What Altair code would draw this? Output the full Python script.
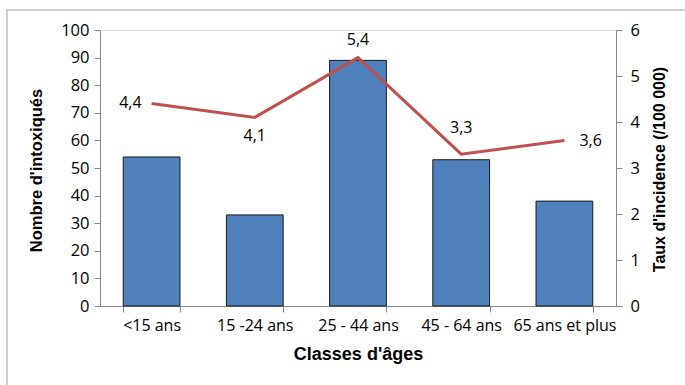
import altair as alt
import pandas as pd

categories = ["<15 ans", "15 -24 ans", "25 - 44 ans", "45 - 64 ans", "65 ans et plus"]
counts = [54, 33, 89, 53, 38]
rates = [4.4, 4.1, 5.4, 3.3, 3.6]
rate_labels = ["4,4", "4,1", "5,4", "3,3", "3,6"]

df = pd.DataFrame({"cat": categories, "n": counts, "rate": rates, "lab": rate_labels})

FONT = "Open Sans"
TITLE_FONT = "Liberation Sans"

xenc = alt.X("cat:N", sort=categories, title="Classes d'âges",
             scale=alt.Scale(paddingInner=0.45, paddingOuter=0.225),
             axis=alt.Axis(labelAngle=0, tickBand="extent", tickSize=6,
                           labelFont=FONT, labelFontSize=16, labelColor="black",
                           labelPadding=5, titleFont=TITLE_FONT, titleFontSize=18,
                           titleFontWeight="bold", titleColor="black", titlePadding=12,
                           domainColor="#868686", tickColor="#868686"))

frame = alt.Chart(pd.DataFrame({"a": [0]})).mark_rect(
    fill=None, stroke="#c0c0c0", strokeWidth=1.5
).encode(x=alt.value(-93), x2=alt.value(600), y=alt.value(-20), y2=alt.value(370))

bars = alt.Chart(df).mark_bar(color="#4F81BD", stroke="#1a1a1a", strokeWidth=1).encode(
    x=xenc,
    y=alt.Y("n:Q", title="Nombre d'intoxiqués",
            scale=alt.Scale(domain=[0, 100]),
            axis=alt.Axis(values=list(range(0, 101, 10)), grid=False, tickSize=6,
                          labelFont=FONT, labelFontSize=16.5, labelColor="black",
                          labelPadding=5, titleFont=TITLE_FONT, titleFontSize=16.5,
                          titleFontWeight="bold", titleColor="black",
                          titleAngle=270, titleX=-64, titleY=140,
                          titleAlign="center", titleBaseline="middle",
                          domainColor="#868686", tickColor="#868686")),
)

yr = alt.Y("rate:Q", title="Taux d'incidence (/100 000)",
           scale=alt.Scale(domain=[0, 6]),
           axis=alt.Axis(orient="right", values=list(range(0, 7)), grid=False, tickSize=6,
                         labelFont=FONT, labelFontSize=16.5, labelColor="black",
                         labelPadding=8, titleFont=TITLE_FONT, titleFontSize=16,
                         titleFontWeight="bold", titleColor="black",
                         titleAngle=270, titleX=43, titleY=139,
                         titleAlign="center", titleBaseline="middle",
                         domainColor="#868686", tickColor="#868686"))

line = alt.Chart(df).mark_line(color="#C0504D", strokeWidth=3).encode(
    x=alt.X("cat:N", sort=categories), y=yr)

def lab(cat, **kw):
    return alt.Chart(df).transform_filter(alt.datum.cat == cat).mark_text(
        font=FONT, fontSize=16, color="black", **kw
    ).encode(x=alt.X("cat:N", sort=categories), y=alt.Y("rate:Q"), text="lab:N")

labels = [
    lab(categories[0], align="right", dx=-10, dy=-1),
    lab(categories[1], dy=19),
    lab(categories[2], dy=-18),
    lab(categories[3], dy=-26),
    lab(categories[4], align="left", dx=15, dy=1),
]

right = alt.layer(line, *labels)

chart = alt.layer(frame, bars, right).resolve_scale(y="independent").properties(
    width=516, height=276,
    autosize=alt.AutoSizeParams(type="none"),
    padding={"left": 100, "top": 30, "right": 69, "bottom": 79},
).configure_view(stroke=None).configure(background="white")

chart.save("out.html", embed_options={"renderer": "svg", "actions": False})
